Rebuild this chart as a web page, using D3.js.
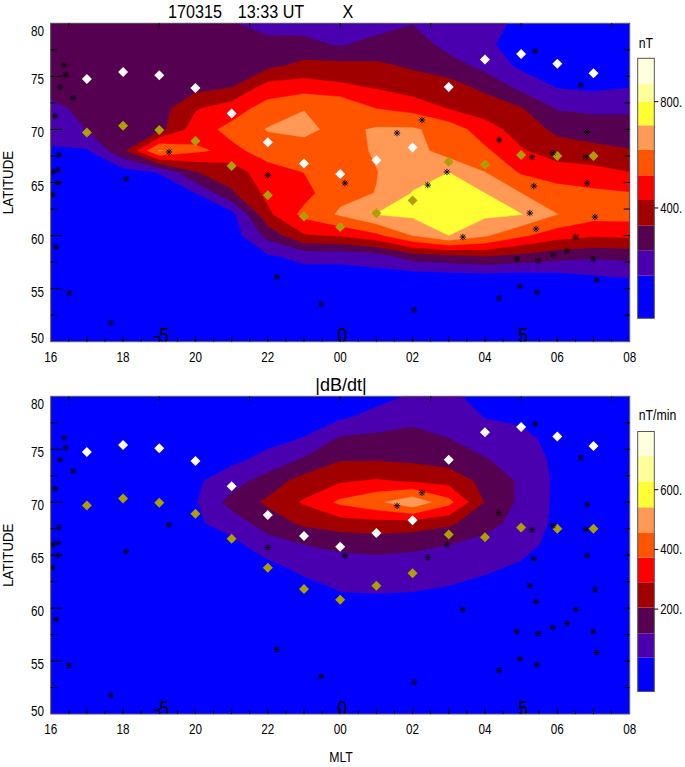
<!DOCTYPE html>
<html><head><meta charset="utf-8">
<script src="https://cdn.jsdelivr.net/npm/d3@7"></script>
<style>
body{margin:0;background:#fff;}
svg{display:block;font-family:"Liberation Sans",Arial,sans-serif;}
</style></head><body>
<svg id="c" width="685" height="767"></svg>
<script>
// ---------------- data ----------------
const mltNodes = [16,17,18,19,20,21,22,23,24,25,26,27,28,29,30,31,32];
const latNodes = [80,78,76,74,72,70,68,66,64,62,60,58,56,54,52,50];

// X component (nT), rows = latNodes, columns = mltNodes
const xField = [
[270,275,285,290,290,245,200,200,190,200,235,190,170,130,60,60,60],
[275,280,285,290,295,290,270,265,230,270,290,205,160,110,75,70,80],
[275,280,285,295,305,310,310,360,360,350,320,280,210,125,95,90,110],
[265,275,285,300,300,330,470,480,450,420,380,370,310,210,140,125,142],
[220,260,285,290,420,480,560,615,610,520,490,425,385,340,230,220,220],
[200,240,280,300,480,550,625,640,590,630,630,580,470,390,310,285,285],
[130,135,310,630,540,500,560,580,575,630,660,570,540,440,380,360,337],
[95,100,110,150,330,380,490,525,575,615,680,710,618,510,475,460,430],
[85,90,95,100,145,320,455,490,595,620,715,760,711,618,560,540,527],
[80,85,85,90,100,110,410,550,630,715,730,750,730,715,620,560,560],
[80,80,80,85,90,95,270,420,440,500,620,711,630,540,470,440,450],
[75,75,75,80,85,90,130,170,170,190,280,300,330,300,270,250,262],
[70,70,70,75,80,85,100,100,100,100,80,90,90,90,100,130,145],
[70,70,70,70,75,80,85,85,85,85,80,85,85,85,90,95,100],
[65,65,65,65,70,75,80,80,80,80,75,80,80,80,85,85,85],
[60,60,60,60,65,70,75,75,75,75,70,75,75,75,80,80,80]
];
// |dB/dt| (nT/min)
const dbdtField = [
[10,10,10,10,10,10,10,10,5,10,45,50,15,10,10,10,10],
[10,10,10,10,10,10,10,10,25,65,95,85,35,25,10,10,10],
[10,10,10,10,10,10,15,40,130,140,150,120,80,55,15,10,10],
[10,10,10,10,10,20,60,130,200,200,190,170,125,80,20,10,10],
[10,10,10,10,25,80,160,240,280,300,280,260,180,105,20,10,10],
[10,10,10,10,30,150,220,300,390,440,520,400,200,100,20,10,10],
[10,10,10,10,25,70,160,220,250,260,250,220,150,85,20,10,10],
[10,10,10,10,10,15,80,120,140,150,140,120,90,60,15,10,10],
[10,10,10,10,10,10,20,60,80,85,80,75,50,30,10,10,10],
[10,10,10,10,10,10,10,15,45,50,45,35,20,10,10,10,10],
[10,10,10,10,10,10,10,10,10,10,10,10,10,10,10,10,10],
[10,10,10,10,10,10,10,10,10,10,10,10,10,10,10,10,10],
[10,10,10,10,10,10,10,10,10,10,10,10,10,10,10,10,10],
[10,10,10,10,10,10,10,10,10,10,10,10,10,10,10,10,10],
[10,10,10,10,10,10,10,10,10,10,10,10,10,10,10,10,10],
[10,10,10,10,10,10,10,10,10,10,10,10,10,10,10,10,10]
];

const xLevels = [145,239,333,430,523,618,711,800,866];
const xRange = [-15,963];
const xBarTicks = [400,800];
const dbdtLevels = [37,119,205,290,373,457,541,627,714];
const dbdtRange = [-76,795];
const dbdtBarTicks = [200,400,600];

const mltTickValues = [16,18,20,22,24,26,28,30,32];
const mltTickLabels = ["16","18","20","22","00","02","04","06","08"];
const latTickValues = [50,55,60,65,70,75,80];
const relTickValues = [19,24,29];
const relTickLabels = ["-5","0","5"];

// station markers
const diamondMlt = [17,18,19,20,21,22,23,24,25,26,27,28,29,30,31];
const whiteLat = [74.75,75.4,75.1,73.9,71.5,68.8,66.8,65.8,67.1,68.3,74.0,76.6,77.1,76.2,75.3];
const oliveLat = [69.7,70.35,69.95,68.9,66.55,63.8,61.8,60.8,62.1,63.3,66.95,66.7,67.6,67.5,67.5];
const starMlt = [16.37,16.42,16.26,16.62,16.12,16.23,16.20,16.06,16.20,16.06,16.15,16.51,17.67,18.08,19.27,22.00,22.25,23.47,24.13,26.04,25.57,26.26,26.42,26.95,27.39,28.39,28.39,28.97,29.44,28.88,29.47,29.88,30.27,30.99,31.09,30.51,29.41,29.24,29.35,30.82,31.04,29.30,29.88,30.79,30.82,29.38,30.65];
const starLat = [76.07,75.13,74.0,72.96,71.26,67.59,66.17,65.99,64.95,63.82,58.92,54.58,51.76,65.33,67.87,65.70,56.09,53.55,64.95,52.98,69.66,70.89,64.76,65.99,59.86,69.0,54.1,55.23,54.66,57.78,57.6,58.16,58.54,57.78,55.8,59.86,60.61,62.12,64.66,64.95,61.74,67.4,67.78,67.4,69.76,77.39,74.18];

// ---------------- style ----------------
const PALETTE = ["#0000ff","#4b00b0","#550050","#a00000","#ff0000","#ff5500","#ff9955","#ffff33","#ffff99","#ffffdd"];
const L = 50.7, R = 629.7;

const svg = d3.select("#c");

// narrow text helper
function txt(g, x, y, str, size, anchor, sx, rot) {
  return g.append("text")
    .attr("transform", `translate(${x},${y})` + (rot ? ` rotate(${rot})` : "") + ` scale(${sx},1)`)
    .attr("text-anchor", anchor).attr("font-size", size).attr("fill", "#000").text(str);
}

function drawPanel(id, field, levels, y0, y1) {
  const x = d3.scaleLinear().domain([16,32]).range([L,R]);
  const y = d3.scaleLinear().domain([50,80]).range([y1,y0]);
  const g = svg.append("g");
  g.append("clipPath").attr("id","clip"+id).append("rect")
    .attr("x",L).attr("y",y0).attr("width",R-L).attr("height",y1-y0);
  const body = g.append("g").attr("clip-path","url(#clip"+id+")");
  body.append("rect").attr("x",L).attr("y",y0).attr("width",R-L).attr("height",y1-y0).attr("fill",PALETTE[0]);
  const nx = mltNodes.length, ny = latNodes.length;
  const dM = mltNodes[1]-mltNodes[0], dL = latNodes[1]-latNodes[0];
  const proj = d3.geoTransform({point(px,py){
    this.stream.point(x(mltNodes[0]+(px-0.5)*dM), y(latNodes[0]+(py-0.5)*dL));
  }});
  const path = d3.geoPath(proj);
  const cs = d3.contours().size([nx,ny]).thresholds(levels)(field.flat());
  body.selectAll("path.c").data(cs).join("path").attr("class","c")
    .attr("d",path).attr("fill",(d,i)=>PALETTE[i+1]).attr("stroke",(d,i)=>PALETTE[i+1]).attr("stroke-width",0.3);

  relTickValues.forEach((v,i)=>txt(body, x(v)+2, y1+1.5, relTickLabels[i], 22, "middle", 0.8));

  const dia = "M0,-5L5,0L0,5L-5,0Z";
  body.selectAll("path.w").data(diamondMlt).join("path").attr("class","w")
    .attr("transform",(d,i)=>`translate(${x(d)},${y(whiteLat[i])})`).attr("d",dia).attr("fill","#ffffff");
  body.selectAll("path.o").data(diamondMlt).join("path").attr("class","o")
    .attr("transform",(d,i)=>`translate(${x(d)},${y(oliveLat[i])})`).attr("d",dia).attr("fill","#ad9f00");
  body.selectAll("path.s").data(starMlt).join("path").attr("class","s")
    .attr("transform",(d,i)=>`translate(${x(d)},${y(starLat[i])})`)
    .attr("d","M-3.2,0H3.2M0,-3.2V3.2M-2.4,-2.4L2.4,2.4M-2.4,2.4L2.4,-2.4")
    .attr("stroke","#000").attr("stroke-width",0.9).attr("fill","none");

  g.append("rect").attr("x",L).attr("y",y0).attr("width",R-L).attr("height",y1-y0)
    .attr("fill","none").attr("stroke","#555").attr("stroke-width",1);

  const tk = g.append("g").attr("stroke","#000").attr("stroke-width",1);
  d3.range(16.5,32,0.5).forEach(v=>{
    const len = (v%1===0)?6:4;
    tk.append("line").attr("x1",x(v)).attr("x2",x(v)).attr("y1",y1).attr("y2",y1-len);
  });
  d3.range(16.5,32,2.5).forEach(v=>{
    tk.append("line").attr("x1",x(v)).attr("x2",x(v)).attr("y1",y0).attr("y2",y0+5);
  });
  d3.range(52.5,80,2.5).forEach(v=>{
    const len = (v%5===0)?12:6;
    tk.append("line").attr("x1",L).attr("x2",L+len).attr("y1",y(v)).attr("y2",y(v));
  });
  d3.range(52.5,80,2.5).forEach(v=>{
    tk.append("line").attr("x1",R).attr("x2",R-6).attr("y1",y(v)).attr("y2",y(v));
  });

  mltTickValues.forEach((v,i)=>txt(g, x(v), y1+20, mltTickLabels[i], 15, "middle", 0.78));
  latTickValues.forEach(v=>txt(g, 44, y(v)+(v===80?13:(v===50?1.5:8)), String(v), 15, "end", 0.78));
  txt(g, 13, (y0+y1)/2, "LATITUDE", 14, "middle", 0.95, -90);
}

function drawBar(levels, range, ticks, unit, top, bottom, unitY) {
  const bx = 637.7, bw = 16.6;
  const s = d3.scaleLinear().domain(range).range([bottom, top]);
  const edges = [range[0], ...levels, range[1]];
  const g = svg.append("g");
  g.selectAll("rect.b").data(PALETTE).join("rect").attr("class","b")
    .attr("x",bx).attr("width",bw)
    .attr("y",(d,i)=>s(edges[i+1])).attr("height",(d,i)=>s(edges[i])-s(edges[i+1]))
    .attr("fill",d=>d);
  g.append("rect").attr("x",bx).attr("y",top).attr("width",bw).attr("height",bottom-top)
    .attr("fill","none").attr("stroke","#555").attr("stroke-width",1);
  g.selectAll("line.t").data(ticks).join("line").attr("class","t")
    .attr("x1",bx+bw).attr("x2",bx+bw+4).attr("y1",d=>s(d)).attr("y2",d=>s(d)).attr("stroke","#000");
  ticks.forEach(t=>txt(g, bx+bw+6, s(t)+5, t+".", 14, "start", 0.8));
  txt(g, bx+1, unitY, unit, 15, "start", 0.82);
}

drawPanel("a", xField, xLevels, 23.3, 341.7);
drawPanel("b", dbdtField, dbdtLevels, 396.3, 714);
drawBar(xLevels, xRange, xBarTicks, "nT", 58.3, 318.3, 48);
drawBar(dbdtLevels, dbdtRange, dbdtBarTicks, "nT/min", 431.5, 691.5, 420);

txt(svg, 195, 18, "170315", 19, "middle", 0.85);
txt(svg, 271, 18, "13:33 UT", 19, "middle", 0.85);
txt(svg, 348, 18, "X", 19, "middle", 0.85);
txt(svg, 341, 391, "|dB/dt|", 19, "middle", 0.95);
txt(svg, 341, 762, "MLT", 15, "middle", 0.82);
</script>
</body></html>
